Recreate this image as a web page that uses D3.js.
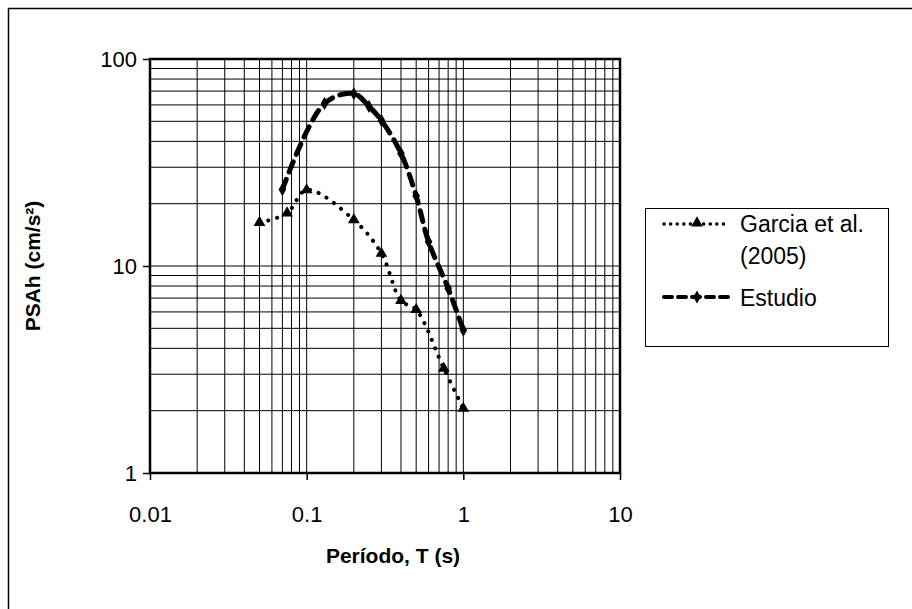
<!DOCTYPE html>
<html>
<head>
<meta charset="utf-8">
<script src="https://cdn.jsdelivr.net/npm/d3@7"></script>
<style>
  html, body { margin: 0; padding: 0; background: #fff; }
  svg { display: block; font-family: "Liberation Sans", Arial, sans-serif; }
</style>
</head>
<body>
<svg id="chart" width="912" height="609"></svg>
<script>
// Spectral acceleration vs. period
const garciaPeriods = [0.05, 0.075, 0.1, 0.2, 0.3, 0.4, 0.5, 0.75, 1.0];
const garciaValues  = [16.2, 18.0, 23.3, 16.7, 11.5, 6.8, 6.15, 3.2, 2.05];

const estudioPeriods = [0.07, 0.13, 0.2, 0.25, 0.3, 0.4, 0.5, 0.6, 0.8, 1.0];
const estudioValues  = [23.4, 61.0, 68.0, 59.0, 50.5, 35.0, 21.8, 13.1, 7.8, 4.9];

const xTickValues = [0.01, 0.1, 1, 10];
const xTickLabels = ["0.01", "0.1", "1", "10"];
const yTickValues = [1, 10, 100];
const yTickLabels = ["1", "10", "100"];

const seriesNames = ["Garcia et al.", "(2005)", "Estudio"];
const xTitle = "Período, T (s)";
const yTitle = "PSAh (cm/s²)";

const FONT = "Liberation Sans, Arial, sans-serif";
const svg = d3.select("#chart");
const plotL = 150, plotR = 620, plotT = 59, plotB = 473;

const x = d3.scaleLog().domain([0.01, 10]).range([plotL, plotR]);
const y = d3.scaleLog().domain([1, 100]).range([plotB, plotT]);

// outer chart frame (extends past the canvas on right/bottom)
svg.append("rect")
  .attr("x", 8.5).attr("y", 8.5).attr("width", 940).attr("height", 640)
  .attr("fill", "none").attr("stroke", "#000").attr("stroke-width", 1.5);

// grid lines: every 1..9 within each decade
const xGrid = [];
for (let e = -2; e <= 0; e++) for (let m = 1; m <= 9; m++) xGrid.push(m * Math.pow(10, e));
const yGrid = [];
for (let e = 0; e <= 1; e++) for (let m = 1; m <= 9; m++) yGrid.push(m * Math.pow(10, e));

const grid = svg.append("g");
grid.selectAll("line.vx").data(xGrid.slice(1)).enter().append("line")
  .attr("x1", d => x(d)).attr("x2", d => x(d))
  .attr("y1", plotT).attr("y2", plotB)
  .attr("stroke", "#000").attr("stroke-width", 1);
grid.selectAll("line.hy").data(yGrid.slice(1)).enter().append("line")
  .attr("y1", d => y(d)).attr("y2", d => y(d))
  .attr("x1", plotL).attr("x2", plotR)
  .attr("stroke", "#000").attr("stroke-width", 1);

// plot area border
svg.append("rect")
  .attr("x", plotL).attr("y", plotT).attr("width", plotR - plotL).attr("height", plotB - plotT)
  .attr("fill", "none").attr("stroke", "#000").attr("stroke-width", 2.5);

// axes
const xAxis = d3.axisBottom(x).tickValues(xTickValues)
  .tickFormat((d, i) => xTickLabels[i]).tickSize(7).tickPadding(26);
const gx = svg.append("g").attr("transform", `translate(0,${plotB})`).call(xAxis);
gx.attr("font-size", null).attr("font-family", null);
gx.select(".domain").remove();
gx.selectAll("line").attr("stroke", "#000").attr("stroke-width", 1.5);
gx.selectAll("text").attr("font-size", 22).attr("fill", "#000").attr("font-family", FONT);

const yAxis = d3.axisLeft(y).tickValues(yTickValues)
  .tickFormat((d, i) => yTickLabels[i]).tickSize(7).tickPadding(6);
const gy = svg.append("g").attr("transform", `translate(${plotL},0)`).call(yAxis);
gy.attr("font-size", null).attr("font-family", null);
gy.select(".domain").remove();
gy.selectAll("line").attr("stroke", "#000").attr("stroke-width", 1.5);
gy.selectAll("text").attr("font-size", 22).attr("fill", "#000").attr("font-family", FONT);

// axis titles
svg.append("text").attr("x", 393).attr("y", 563)
  .attr("text-anchor", "middle").attr("font-size", 21).attr("font-weight", "bold")
  .attr("font-family", FONT).text(xTitle);
svg.append("text")
  .attr("transform", `translate(40,${(plotT + plotB) / 2}) rotate(-90)`)
  .attr("text-anchor", "middle").attr("font-size", 21).attr("font-weight", "bold")
  .attr("font-family", FONT).text(yTitle);

// series
const garcia = garciaPeriods.map((p, i) => ({ p, v: garciaValues[i] }));
const estudio = estudioPeriods.map((p, i) => ({ p, v: estudioValues[i] }));

const line = d3.line().x(d => x(d.p)).y(d => y(d.v)).curve(d3.curveCatmullRom.alpha(0.5));

svg.append("path").datum(garcia).attr("d", line)
  .attr("fill", "none").attr("stroke", "#000").attr("stroke-width", 4)
  .attr("stroke-linecap", "round").attr("stroke-dasharray", "0.1 9");

svg.append("path").datum(estudio).attr("d", line)
  .attr("fill", "none").attr("stroke", "#000").attr("stroke-width", 5)
  .attr("stroke-linecap", "round").attr("stroke-dasharray", "11 8");

const tri = d3.symbol().type(d3.symbolTriangle).size(60);
const dia = d3.symbol().type(d3.symbolDiamond).size(50);

svg.append("g").selectAll("path").data(garcia).enter().append("path")
  .attr("d", tri).attr("transform", d => `translate(${x(d.p)},${y(d.v)})`)
  .attr("fill", "#000");
svg.append("g").selectAll("path").data(estudio).enter().append("path")
  .attr("d", dia).attr("transform", d => `translate(${x(d.p)},${y(d.v)})`)
  .attr("fill", "#000");

// legend
const lg = svg.append("g").attr("font-family", FONT);
lg.append("rect").attr("x", 645.5).attr("y", 208.5).attr("width", 243).attr("height", 138)
  .attr("fill", "#fff").attr("stroke", "#000").attr("stroke-width", 1);

lg.append("line").attr("x1", 664).attr("x2", 729).attr("y1", 224).attr("y2", 224)
  .attr("stroke", "#000").attr("stroke-width", 3.5).attr("stroke-linecap", "round")
  .attr("stroke-dasharray", "0.1 6.5");
lg.append("path").attr("d", tri).attr("transform", "translate(697,223)").attr("fill", "#000");

lg.append("line").attr("x1", 664).attr("x2", 729).attr("y1", 297).attr("y2", 297)
  .attr("stroke", "#000").attr("stroke-width", 4).attr("stroke-linecap", "round")
  .attr("stroke-dasharray", "8 6");
lg.append("path").attr("d", dia).attr("transform", "translate(697,297)").attr("fill", "#000");

lg.append("text").attr("x", 740).attr("y", 232).attr("font-size", 23).text(seriesNames[0]);
lg.append("text").attr("x", 740).attr("y", 264).attr("font-size", 23).text(seriesNames[1]);
lg.append("text").attr("x", 740).attr("y", 306).attr("font-size", 23).text(seriesNames[2]);
</script>
</body>
</html>
